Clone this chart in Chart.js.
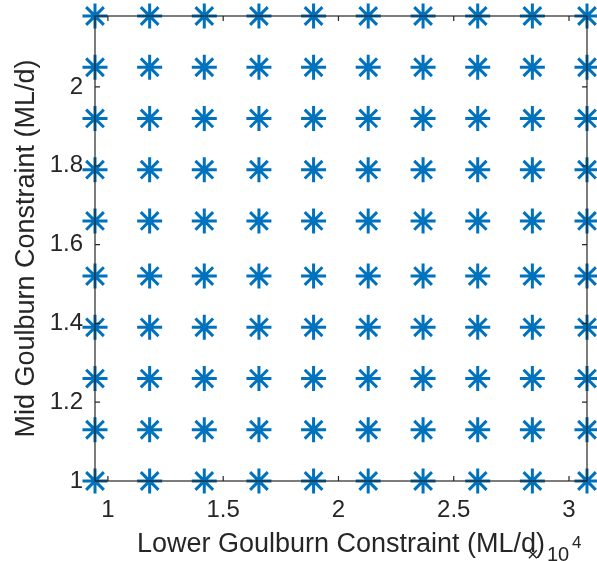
<!doctype html>
<html lang="en">
<head>
    <meta charset="utf-8" />
    <title>Goulburn constraints</title>
    <script src="https://cdn.jsdelivr.net/npm/chart.js@4.4.0/dist/chart.umd.min.js"></script>
    <style>
        html, body { margin: 0; padding: 0; background: #fff; }
        #chartBox { width: 597px; height: 561px; }
    </style>
</head>
<body>
    <div id="chartBox">
        <canvas id="myChart" width="597" height="561"></canvas>
    </div>

    <script>
        // Lower Goulburn constraint values (ML/d)
        const lowerVals = [9440, 11810, 14180, 16550, 18920, 21290, 23670, 26040, 28410, 30780];
        // Mid Goulburn constraint values (ML/d)
        const midVals = [1.00, 1.13, 1.26, 1.39, 1.52, 1.66, 1.79, 1.92, 2.05, 2.18];
        // tick positions
        const xTicks = [10000, 15000, 20000, 25000, 30000];
        const yTicks = [1, 1.2, 1.4, 1.6, 1.8, 2];

        const axisColor = '#262626';
        const fontFam = "'Liberation Sans', Arial, Helvetica, sans-serif";

        const points = [];
        lowerVals.forEach(x => {
            midVals.forEach(y => points.push({ x: x, y: y }));
        });

        // box with inward ticks, plus the x10^4 exponent label
        const matlabAxes = {
            id: 'matlabAxes',
            afterDatasetsDraw(chart) {
                const { ctx, chartArea: a, scales } = chart;
                const tl = 5;
                ctx.save();
                ctx.strokeStyle = axisColor;
                ctx.lineWidth = 1.2;
                ctx.strokeRect(a.left, a.top, a.right - a.left, a.bottom - a.top);
                ctx.beginPath();
                xTicks.forEach(v => {
                    const px = scales.x.getPixelForValue(v);
                    ctx.moveTo(px, a.bottom); ctx.lineTo(px, a.bottom - tl);
                    ctx.moveTo(px, a.top); ctx.lineTo(px, a.top + tl);
                });
                yTicks.forEach(v => {
                    const py = scales.y.getPixelForValue(v);
                    ctx.moveTo(a.left, py); ctx.lineTo(a.left + tl, py);
                    ctx.moveTo(a.right, py); ctx.lineTo(a.right - tl, py);
                });
                ctx.stroke();

                ctx.fillStyle = axisColor;
                ctx.textBaseline = 'alphabetic';
                ctx.textAlign = 'left';
                ctx.font = '20px ' + fontFam;
                ctx.fillText('\u00d7', 527, 561);
                ctx.fillText('10', 547, 561);
                ctx.font = '17px ' + fontFam;
                ctx.fillText('4', 572, 548);
                ctx.restore();
            }
        };

        const ctx = document.getElementById('myChart').getContext('2d');
        const myChart = new Chart(ctx, {
            type: 'scatter',
            data: {
                datasets: [{
                    data: points,
                    pointStyle: 'star',
                    radius: 12.5,
                    borderWidth: 3,
                    borderColor: '#0072BD',
                    backgroundColor: '#0072BD',
                    clip: false
                }]
            },
            options: {
                responsive: false,
                animation: false,
                devicePixelRatio: 1,
                layout: {
                    autoPadding: false,
                    padding: { top: 16, right: 10, left: 0, bottom: 0 }
                },
                plugins: {
                    legend: { display: false },
                    tooltip: { enabled: false }
                },
                scales: {
                    x: {
                        type: 'linear',
                        min: lowerVals[0],
                        max: lowerVals[lowerVals.length - 1],
                        afterBuildTicks: s => { s.ticks = xTicks.map(v => ({ value: v })); },
                        afterFit: s => {
                            s.height = 80;
                            s.paddingLeft = 0;
                            s.paddingRight = 0;
                        },
                        grid: { display: false, drawTicks: false },
                        border: { display: false },
                        ticks: {
                            color: axisColor,
                            font: { family: fontFam, size: 24 },
                            padding: 15,
                            maxRotation: 0,
                            callback: v => String(v / 10000)
                        },
                        title: {
                            display: true,
                            text: 'Lower Goulburn Constraint (ML/d)',
                            color: axisColor,
                            font: { family: fontFam, size: 27 },
                            padding: { top: 0, bottom: 0 }
                        }
                    },
                    y: {
                        type: 'linear',
                        min: midVals[0],
                        max: midVals[midVals.length - 1],
                        afterBuildTicks: s => { s.ticks = yTicks.map(v => ({ value: v })); },
                        afterFit: s => {
                            s.width = 95;
                            s.paddingTop = 0;
                            s.paddingBottom = 0;
                        },
                        grid: { display: false, drawTicks: false },
                        border: { display: false },
                        ticks: {
                            color: axisColor,
                            font: { family: fontFam, size: 24 },
                            padding: 12,
                            callback: v => String(v)
                        },
                        title: {
                            display: true,
                            text: 'Mid Goulburn Constraint (ML/d)',
                            color: axisColor,
                            font: { family: fontFam, size: 27 },
                            padding: { top: 10, bottom: 0 }
                        }
                    }
                }
            },
            plugins: [matlabAxes]
        });
    </script>
</body>
</html>
